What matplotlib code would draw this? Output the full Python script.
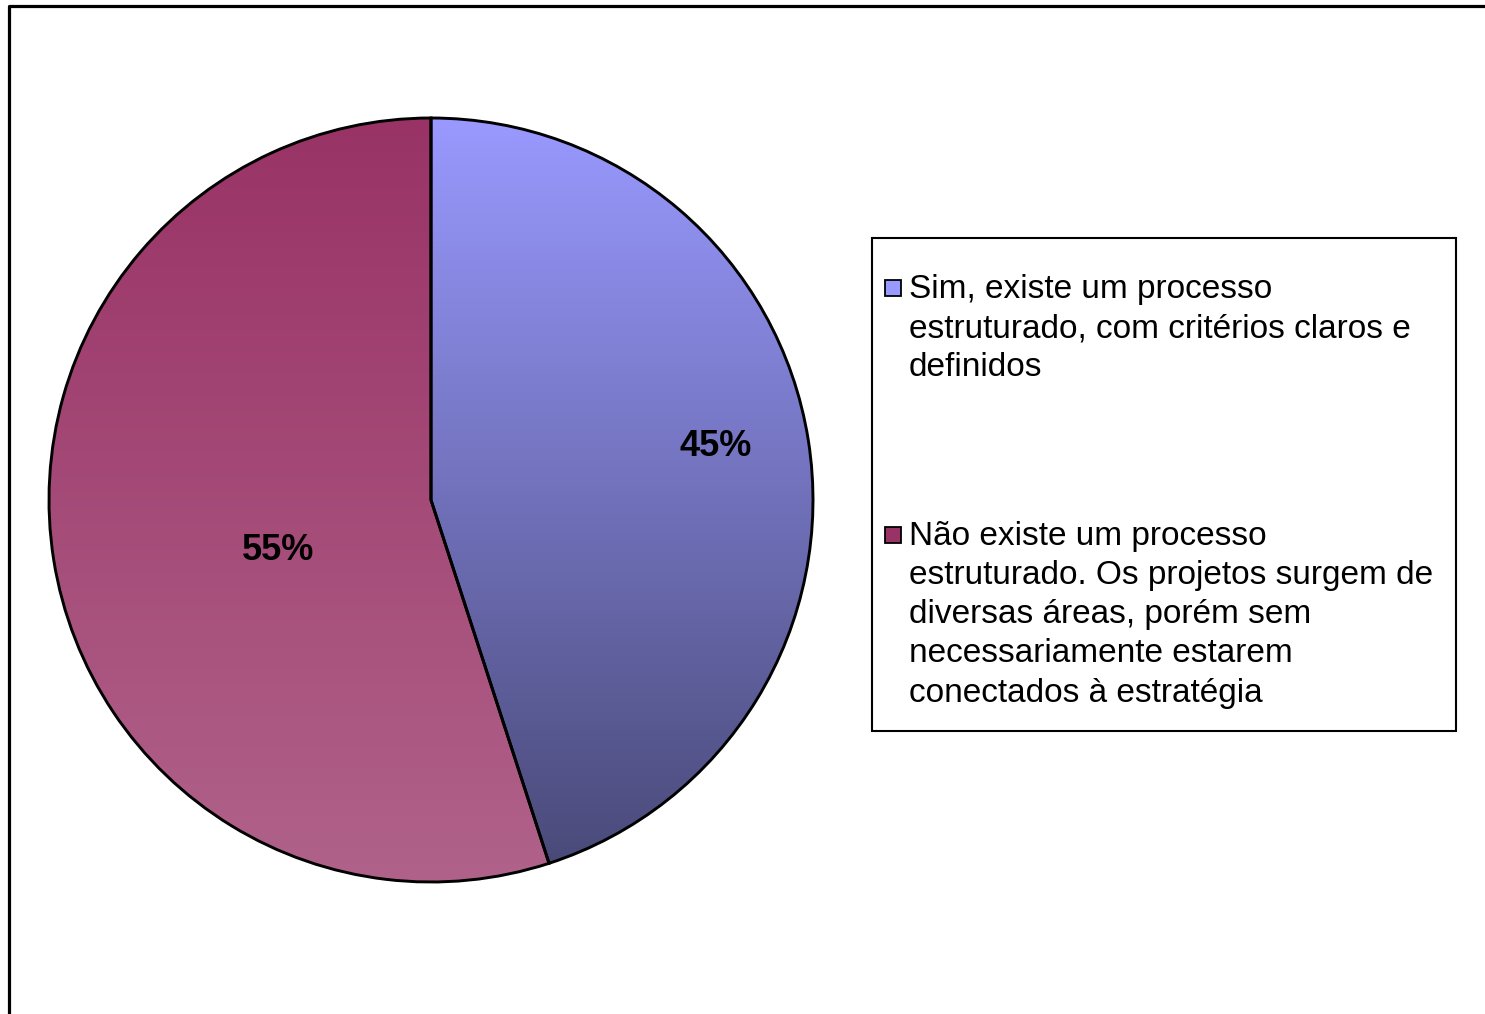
import numpy as np
import matplotlib.pyplot as plt
from matplotlib.colors import LinearSegmentedColormap
from matplotlib.patches import Rectangle

# dados
valores = [45, 55]
rotulos = ['45%', '55%']
legenda = ['Sim, existe um processo\nestruturado, com critérios claros e\ndefinidos',
           'Não existe um processo\nestruturado. Os projetos surgem de\ndiversas áreas, porém sem\nnecessariamente estarem\nconectados à estratégia']
cores_topo = ['#9999FF', '#993366']
cores_base = ['#484876', '#B0628A']

plt.rcParams['font.family'] = ['Liberation Sans', 'DejaVu Sans']

W, H = 1485, 1014
fig = plt.figure(figsize=(W / 100, H / 100), dpi=100)
ax = fig.add_axes([0, 0, 1, 1])

cx, cy, r = 431, H - 500, 382
wedges, textos = ax.pie(valores, center=(cx, cy), radius=r, startangle=90,
                        counterclock=False, frame=True,
                        wedgeprops=dict(edgecolor='black', linewidth=2.1))

# preenchimento em degradê
for w, c1, c2 in zip(wedges, cores_topo, cores_base):
    w.set_facecolor('none')
    w.set_zorder(3)
    cmap = LinearSegmentedColormap.from_list('g', [c1, c2])
    grad = np.linspace(0, 1, 256).reshape(-1, 1)
    im = ax.imshow(grad, cmap=cmap, aspect='auto', origin='upper',
                   extent=(cx - r, cx + r, cy - r, cy + r), zorder=2)
    im.set_clip_path(w)

# rótulos de porcentagem (posição em pixels, como no original)
pos_rotulos = [(716, 446), (278, 551)]
for (px, py), t in zip(pos_rotulos, rotulos):
    ax.text(px, H - py, t, ha='center', va='center', fontsize=26,
            fontweight='bold', zorder=4)

ax.set_xlim(0, W)
ax.set_ylim(0, H)
ax.set_aspect('auto')
ax.axis('off')

# moldura externa
ax.plot([9, 9, W + 5], [-5, H - 6, H - 6], color='black', lw=2.3, clip_on=False)

# legenda
ax.add_patch(Rectangle((872, H - 731), 584, 493, fill=False, edgecolor='black', lw=1.5))
ys = [288, 535]
for y, txt, c1, c2 in zip(ys, legenda, cores_topo, cores_base):
    ax.add_patch(Rectangle((885, H - y - 8), 16, 16, facecolor=c1, edgecolor='black', lw=1.3))
    ax.text(909, H - y + 14, txt, ha='left', va='top', fontsize=24,
            linespacing=1.34)

fig.savefig('out.png', dpi=100)
